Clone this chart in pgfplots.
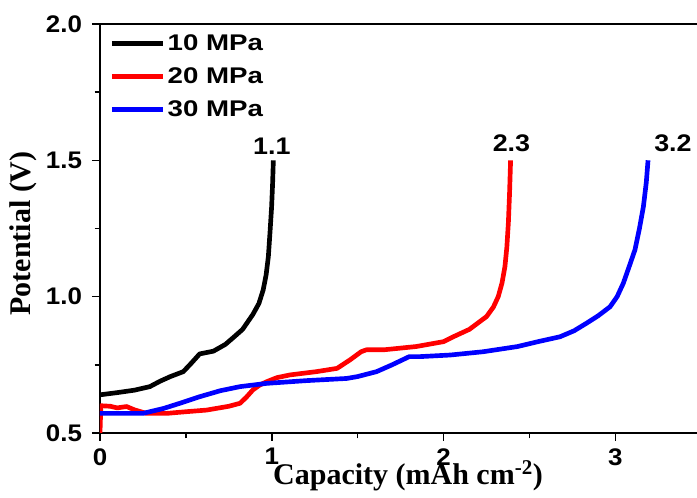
\documentclass[border=0pt]{standalone}
\usepackage{fontspec}
\setmainfont{Liberation Serif}
\newfontfamily\ticksf[FakeStretch=1.08]{Liberation Sans}
\newfontfamily\legsf[FakeStretch=1.22]{Liberation Sans}
\newfontfamily\labsf[FakeStretch=1.12]{Liberation Sans}
\usepackage{pgfplots}
\pgfplotsset{compat=1.18}
\begin{document}
\begin{tikzpicture}
\useasboundingbox (-75pt,-48.75pt) rectangle (447.75pt,324.75pt);
\clip (-75pt,-48.75pt) rectangle (447.75pt,324.75pt);
\begin{axis}[
  at={(0,0)}, anchor=south west,
  scale only axis,
  width=447.75pt, height=306.75pt,
  xmin=0, xmax=3.475, ymin=0.5, ymax=2.0,
  axis x line*=box, axis y line*=left,
  axis line style={line width=1.1pt},
  xtick={0,1,2,3}, minor xtick={0.5,1.5,2.5},
  ytick={0.5,1.0,1.5,2.0}, minor ytick={0.75,1.25,1.75},
  xtick pos=bottom, ytick pos=left,
  tick align=outside,
  major tick length=6pt, minor tick length=4pt,
  every tick/.style={black, line width=1.1pt},
  /pgf/number format/assume math mode=true,
  ticklabel style={font=\ticksf\bfseries\fontsize{18}{21}\selectfont},
  yticklabel style={/pgf/number format/.cd, fixed, fixed zerofill, precision=1, /tikz/.cd, xshift=-4pt},
  xticklabel style={yshift=-2pt},
  xlabel={\bfseries Capacity (mAh cm\textsuperscript{-2})},
  ylabel={\bfseries Potential (V)},
  label style={font=\fontsize{22.5}{26}\selectfont},
  x label style={at={(axis description cs:0.516,-0.127)}, anchor=base},
  y label style={at={(axis description cs:-0.129,0.488)}, anchor=center},
  legend cell align=left,
  legend style={draw=none, fill=none, at={(axis description cs:0.0135,0.985)}, anchor=north west,
    font=\legsf\bfseries\fontsize{17}{20}\selectfont, row sep=7.5pt, inner sep=1pt},
  legend image code/.code={\draw[#1, line width=3.5pt] (0pt,0pt) -- (38pt,0pt);},
  every axis plot/.append style={line width=3.5pt, line join=round},
]
\addplot[black] coordinates {
(0,0.64) (0.1,0.648) (0.2,0.657) (0.29,0.67) (0.35,0.69) (0.41,0.707) (0.485,0.725) (0.53,0.755) (0.58,0.79) (0.66,0.80) (0.73,0.825) (0.776,0.85) (0.83,0.88) (0.89,0.935) (0.925,0.975) (0.95,1.025) (0.967,1.08) (0.98,1.147) (0.99,1.24) (0.999,1.33) (1.005,1.42) (1.009,1.50)
};
\addlegendentry{10 MPa}
\addplot[red] coordinates {
(0,0.5) (0.005,0.6) (0.06,0.598) (0.1,0.592) (0.155,0.597) (0.2,0.585) (0.27,0.572) (0.39,0.572) (0.5,0.578) (0.62,0.584) (0.75,0.598) (0.815,0.609) (0.85,0.63) (0.89,0.658) (0.93,0.676) (0.97,0.688) (1.03,0.703) (1.106,0.713) (1.26,0.725) (1.38,0.737) (1.455,0.768) (1.52,0.798) (1.55,0.805) (1.65,0.805) (1.84,0.817) (2.0,0.835) (2.057,0.853) (2.15,0.88) (2.25,0.927) (2.29,0.962) (2.318,1.0) (2.34,1.05) (2.357,1.11) (2.368,1.18) (2.377,1.27) (2.384,1.38) (2.39,1.50)
};
\addlegendentry{20 MPa}
\addplot[blue] coordinates {
(0,0.572) (0.25,0.572) (0.37,0.59) (0.47,0.61) (0.58,0.633) (0.7,0.655) (0.815,0.67) (0.97,0.682) (1.2,0.692) (1.436,0.70) (1.5,0.707) (1.61,0.725) (1.7,0.75) (1.80,0.78) (1.86,0.78) (2.04,0.786) (2.23,0.798) (2.43,0.817) (2.55,0.835) (2.678,0.853) (2.76,0.875) (2.833,0.903) (2.9,0.93) (2.969,0.963) (3.01,1.0) (3.046,1.049) (3.08,1.11) (3.114,1.172) (3.14,1.25) (3.163,1.33) (3.18,1.42) (3.19,1.50)
};
\addlegendentry{30 MPa}
\node[font=\labsf\bfseries\fontsize{18}{20}\selectfont] at (axis cs:1.0,1.55) {1.1};
\node[font=\labsf\bfseries\fontsize{18}{20}\selectfont] at (axis cs:2.395,1.564) {2.3};
\node[font=\labsf\bfseries\fontsize{18}{20}\selectfont] at (axis cs:3.335,1.564) {3.2};
\end{axis}
\end{tikzpicture}
\end{document}
